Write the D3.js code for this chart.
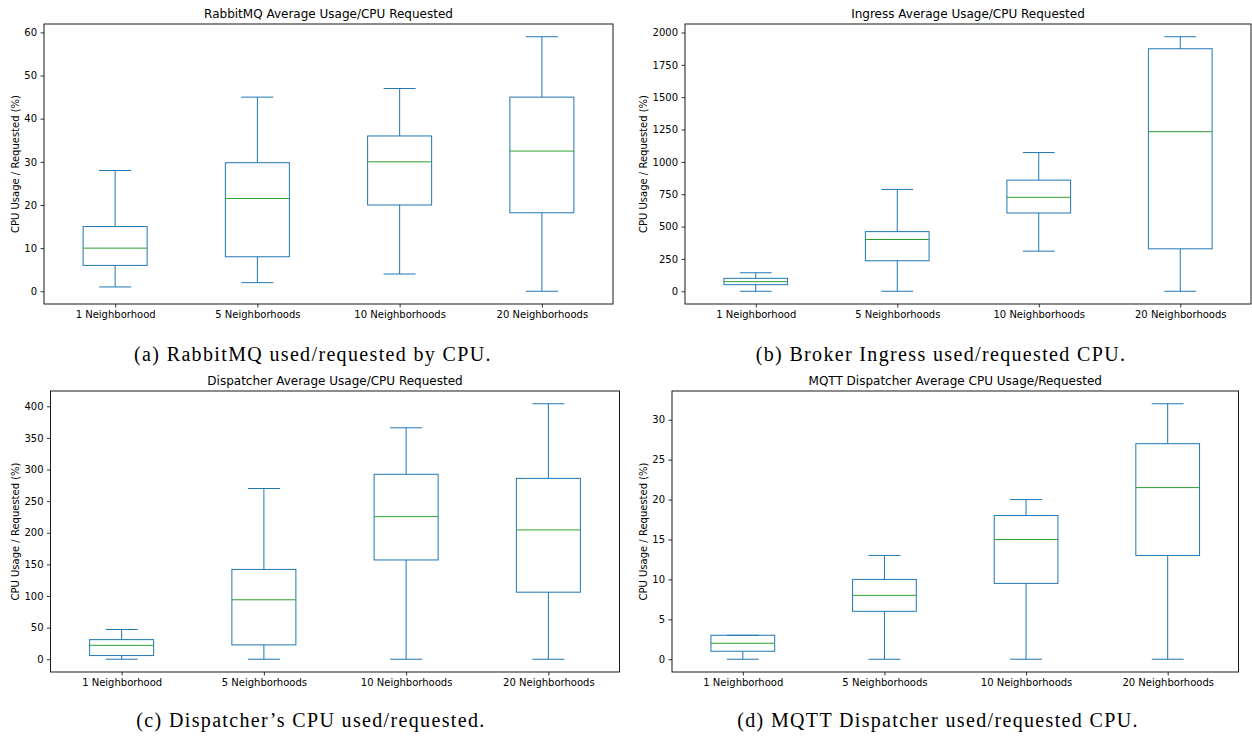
<!DOCTYPE html>
<html>
<head>
<meta charset="utf-8">
<script src="https://cdn.jsdelivr.net/npm/d3@7"></script>
<style>
  html, body { margin: 0; padding: 0; background: #fff; }
  svg { display: block; }
  .tick text { font-family: "DejaVu Sans", sans-serif; font-size: 10px; fill: #000; }
</style>
</head>
<body>
<svg id="chart" width="1252" height="738"></svg>
<script>
// ---------- data ----------
const categories = ["1 Neighborhood", "5 Neighborhoods", "10 Neighborhoods", "20 Neighborhoods"];

const rabbitLow  = [1, 2, 4, 0];
const rabbitQ1   = [6, 8, 20, 18.2];
const rabbitMed  = [10, 21.5, 30, 32.5];
const rabbitQ3   = [15, 29.8, 36, 45];
const rabbitHigh = [28, 45, 47, 59];
const rabbitTicks = [0, 10, 20, 30, 40, 50, 60];

const ingressLow  = [0, 0, 310, 0];
const ingressQ1   = [51, 236, 605, 328];
const ingressMed  = [74, 400, 726, 1233];
const ingressQ3   = [100, 461, 859, 1874];
const ingressHigh = [143, 787, 1072, 1967];
const ingressTicks = [0, 250, 500, 750, 1000, 1250, 1500, 1750, 2000];

const dispLow  = [0, 0, 0, 0];
const dispQ1   = [5.8, 22.7, 157, 106];
const dispMed  = [22, 94, 225.5, 204.5];
const dispQ3   = [31, 142, 292.5, 286];
const dispHigh = [47, 270, 366, 404];
const dispTicks = [0, 50, 100, 150, 200, 250, 300, 350, 400];

const mqttLow  = [0, 0, 0, 0];
const mqttQ1   = [1, 6, 9.5, 13];
const mqttMed  = [2, 8, 15, 21.5];
const mqttQ3   = [3, 10, 18, 27];
const mqttHigh = [3, 13, 20, 32];
const mqttTicks = [0, 5, 10, 15, 20, 25, 30];

const titles = [
  "RabbitMQ Average Usage/CPU Requested",
  "Ingress Average Usage/CPU Requested",
  "Dispatcher Average Usage/CPU Requested",
  "MQTT Dispatcher Average CPU Usage/Requested"
];
const captions = [
  "(a) RabbitMQ used/requested by CPU.",
  "(b) Broker Ingress used/requested CPU.",
  "(c) Dispatcher\u2019s CPU used/requested.",
  "(d) MQTT Dispatcher used/requested CPU."
];
const yLabel = "CPU Usage / Requested (%)";

// ---------- layout ----------
const panels = [
  { low: rabbitLow, q1: rabbitQ1, med: rabbitMed, q3: rabbitQ3, high: rabbitHigh, ticks: rabbitTicks,
    rect: { x0: 44, x1: 613, y0: 24, y1: 304 }, cap: { x: 313, y: 360.5 } },
  { low: ingressLow, q1: ingressQ1, med: ingressMed, q3: ingressQ3, high: ingressHigh, ticks: ingressTicks,
    rect: { x0: 685, x1: 1251, y0: 24, y1: 304 }, cap: { x: 941, y: 360.5 } },
  { low: dispLow, q1: dispQ1, med: dispMed, q3: dispQ3, high: dispHigh, ticks: dispTicks,
    rect: { x0: 50.5, x1: 619.5, y0: 391, y1: 672 }, cap: { x: 311, y: 726.5 } },
  { low: mqttLow, q1: mqttQ1, med: mqttMed, q3: mqttQ3, high: mqttHigh, ticks: mqttTicks,
    rect: { x0: 672, x1: 1238.5, y0: 391, y1: 672 }, cap: { x: 938, y: 726.5 } }
];

const BOX = "#1f77b4", MED = "#2ca02c";
const svg = d3.select("#chart");

panels.forEach((p, i) => {
  const r = p.rect;
  const lo = d3.min(p.low), hi = d3.max(p.high);
  const pad = (hi - lo) * 0.05;
  const y = d3.scaleLinear().domain([lo - pad, hi + pad]).range([r.y1, r.y0]);
  const x = d3.scalePoint().domain(categories).range([r.x0, r.x1]).padding(0.5);
  const bw = x.step() * 0.45;
  const cw = bw * 0.5;

  const g = svg.append("g");

  const rows = categories.map((c, k) => ({
    c, low: p.low[k], q1: p.q1[k], med: p.med[k], q3: p.q3[k], high: p.high[k]
  }));
  const bg = g.append("g").attr("fill", "none").attr("stroke-width", 1);
  rows.forEach(d => {
    const cx = x(d.c);
    bg.append("rect")
      .attr("x", cx - bw / 2).attr("width", bw)
      .attr("y", y(d.q3)).attr("height", y(d.q1) - y(d.q3))
      .attr("stroke", BOX);
    bg.append("line").attr("x1", cx).attr("x2", cx).attr("y1", y(d.q1)).attr("y2", y(d.low)).attr("stroke", BOX);
    bg.append("line").attr("x1", cx).attr("x2", cx).attr("y1", y(d.q3)).attr("y2", y(d.high)).attr("stroke", BOX);
    bg.append("line").attr("x1", cx - cw / 2).attr("x2", cx + cw / 2).attr("y1", y(d.low)).attr("y2", y(d.low)).attr("stroke", BOX);
    bg.append("line").attr("x1", cx - cw / 2).attr("x2", cx + cw / 2).attr("y1", y(d.high)).attr("y2", y(d.high)).attr("stroke", BOX);
    bg.append("line").attr("x1", cx - bw / 2).attr("x2", cx + bw / 2).attr("y1", y(d.med)).attr("y2", y(d.med)).attr("stroke", MED);
  });

  const ya = g.append("g").attr("transform", `translate(${r.x0},0)`)
    .call(d3.axisLeft(y).tickValues(p.ticks).tickSize(3.5).tickPadding(3.5).tickFormat(d3.format("d")));
  ya.select(".domain").remove();
  ya.selectAll(".tick line").attr("stroke", "#000").attr("stroke-width", 0.8);

  const xa = g.append("g").attr("transform", `translate(0,${r.y1})`)
    .call(d3.axisBottom(x).tickSize(3.5).tickPadding(3.5));
  xa.select(".domain").remove();
  xa.selectAll(".tick line").attr("stroke", "#000").attr("stroke-width", 0.8);

  g.append("rect").attr("x", r.x0).attr("y", r.y0)
    .attr("width", r.x1 - r.x0).attr("height", r.y1 - r.y0)
    .attr("fill", "none").attr("stroke", "#000").attr("stroke-width", 0.9);

  let maxW = 0;
  ya.selectAll(".tick text").each(function () { maxW = Math.max(maxW, this.getComputedTextLength()); });
  const lx = r.x0 - 7 - maxW - 5.5;
  g.append("text")
    .attr("transform", `translate(${lx},${(r.y0 + r.y1) / 2}) rotate(-90)`)
    .attr("text-anchor", "middle")
    .attr("font-family", "DejaVu Sans, sans-serif").attr("font-size", 10)
    .text(yLabel);

  g.append("text")
    .attr("x", (r.x0 + r.x1) / 2).attr("y", r.y0 - 6.5)
    .attr("text-anchor", "middle")
    .attr("font-family", "DejaVu Sans, sans-serif").attr("font-size", 12)
    .text(titles[i]);

  g.append("text")
    .attr("x", p.cap.x).attr("y", p.cap.y)
    .attr("text-anchor", "middle")
    .attr("font-family", "Liberation Serif, serif").attr("font-size", 20)
    .attr("letter-spacing", 1.35)
    .text(captions[i]);
});
</script>
</body>
</html>
